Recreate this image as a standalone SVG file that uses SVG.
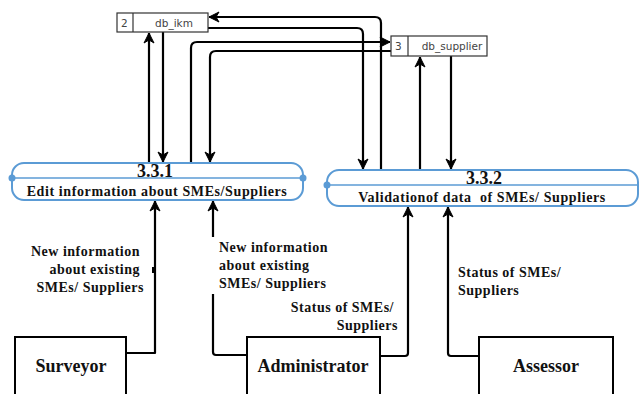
<svg xmlns="http://www.w3.org/2000/svg" width="639" height="394" viewBox="0 0 639 394">
  <style>
    .flow { fill: none; stroke: #000; stroke-width: 2.2; stroke-linejoin: round; }
    .proc { fill: #fff; stroke: #5b9bd5; stroke-width: 2; }
    .procline { stroke: #5b9bd5; stroke-width: 1.6; }
    .dot { fill: #5b9bd5; }
    .store { fill: #fff; stroke: #333; stroke-width: 1.2; }
    .storetxt { font-family: "DejaVu Sans", sans-serif; font-size: 10.5px; fill: #444; }
    .serif { font-family: "Liberation Serif", "Times New Roman", Times, serif; font-weight: bold; fill: #111; }
    .ent { fill: #fff; stroke: #000; stroke-width: 2; }
    .enttxt { font-size: 18px; text-anchor: middle; }
    .num { font-size: 18px; text-anchor: middle; }
    .ptxt { font-size: 14px; letter-spacing: 0.6px; text-anchor: middle; }
    .lbl { font-size: 14px; letter-spacing: 0.5px; }
  </style>
  <defs>
    <marker id="arrow" markerUnits="userSpaceOnUse" markerWidth="14" markerHeight="14" viewBox="-1 -7 13 14" refX="10" refY="0" orient="auto">
      <path d="M0,-5 L10,0 L0,5 L3,0 z" fill="#000" stroke="#000" stroke-width="1" stroke-linejoin="round"/>
    </marker>
  </defs>

  <rect width="639" height="394" fill="#fff"/>

  <!-- data flows -->
  <g id="connectors">
    <!-- 3.3.1 <-> db_ikm -->
    <path class="flow" d="M149,163 L149,33" marker-end="url(#arrow)"/>
    <path class="flow" d="M163,32 L163,162" marker-end="url(#arrow)"/>
    <!-- 3.3.1 <-> db_supplier -->
    <path class="flow" d="M191,163 L191,48 Q191,42 197,42 L390,42" marker-end="url(#arrow)"/>
    <path class="flow" d="M391,51 L216,51 Q210,51 210,57 L210,162" marker-end="url(#arrow)"/>
    <!-- 3.3.2 <-> db_ikm -->
    <path class="flow" d="M208,28 L357,28 Q363,28 363,34 L363,169" marker-end="url(#arrow)"/>
    <path class="flow" d="M381,170 L381,23 Q381,17 375,17 L209,17" marker-end="url(#arrow)"/>
    <!-- 3.3.2 <-> db_supplier -->
    <path class="flow" d="M420,170 L420,57" marker-end="url(#arrow)"/>
    <path class="flow" d="M451,56 L451,169" marker-end="url(#arrow)"/>
    <!-- external entities to processes -->
    <path class="flow" d="M126,353 L155,353 L155,201" marker-end="url(#arrow)"/>
    <rect x="152" y="267" width="3" height="6" fill="#000"/>
    <path class="flow" d="M247,355 L216,355 Q213,355 213,352 L213,201" marker-end="url(#arrow)"/>
    <path class="flow" d="M380,356 L405,356 Q408,356 408,353 L408,207" marker-end="url(#arrow)"/>
    <path class="flow" d="M479,356 L451,356 Q448,356 448,353 L448,207" marker-end="url(#arrow)"/>
  </g>

  <!-- data stores -->
  <g id="db_ikm">
    <rect class="store" x="117" y="13" width="91" height="19"/>
    <line class="store" x1="133" y1="13" x2="133" y2="32"/>
    <text class="storetxt" x="121" y="26.5">2</text>
    <text class="storetxt" x="174" y="26.5" text-anchor="middle">db_ikm</text>
  </g>
  <g id="db_supplier">
    <rect class="store" x="391" y="36" width="96" height="20"/>
    <line class="store" x1="408" y1="36" x2="408" y2="56"/>
    <text class="storetxt" x="395" y="49.5">3</text>
    <text class="storetxt" x="452" y="49.5" text-anchor="middle">db_supplier</text>
  </g>

  <!-- processes -->
  <g id="p331">
    <rect class="proc" x="12" y="163" width="291" height="37" rx="12"/>
    <line class="procline" x1="12" y1="178" x2="303" y2="178"/>
    <circle class="dot" cx="12" cy="178" r="3.5"/>
    <circle class="dot" cx="303" cy="178" r="3.5"/>
    <text class="serif num" x="155" y="177">3.3.1</text>
    <text class="serif ptxt" x="157" y="196">Edit information about SMEs/Suppliers</text>
  </g>
  <g id="p332">
    <rect class="proc" x="327" y="170" width="311" height="36" rx="12"/>
    <line class="procline" x1="327" y1="185" x2="638" y2="185"/>
    <circle class="dot" cx="327" cy="185" r="3.5"/>
    <text class="serif num" x="484" y="184">3.3.2</text>
    <text class="serif ptxt" x="482" y="202" xml:space="preserve">Validationof data  of SMEs/ Suppliers</text>
  </g>

  <!-- external entities -->
  <g id="surveyor">
    <rect class="ent" x="15" y="337" width="111" height="70"/>
    <text class="serif enttxt" x="71" y="372">Surveyor</text>
  </g>
  <g id="administrator">
    <rect class="ent" x="247" y="337" width="133" height="70"/>
    <text class="serif enttxt" x="313" y="372">Administrator</text>
  </g>
  <g id="assessor">
    <rect class="ent" x="479" y="337" width="134" height="70"/>
    <text class="serif enttxt" x="546" y="372">Assessor</text>
  </g>

  <!-- flow labels -->
  <g id="labels">
    <text class="serif lbl" text-anchor="end">
      <tspan x="144" y="256">New information</tspan>
      <tspan x="144" y="274">about existing</tspan>
      <tspan x="144" y="292">SMEs/ Suppliers</tspan>
    </text>
    <rect x="211" y="237" width="122" height="57" fill="#fff"/>
    <text class="serif lbl">
      <tspan x="219" y="252">New information</tspan>
      <tspan x="219" y="270">about existing</tspan>
      <tspan x="219" y="288">SMEs/ Suppliers</tspan>
    </text>
    <text class="serif lbl" text-anchor="end">
      <tspan x="398" y="312">Status of SMEs/</tspan>
      <tspan x="398" y="330">Suppliers</tspan>
    </text>
    <text class="serif lbl">
      <tspan x="458" y="277">Status of SMEs/</tspan>
      <tspan x="458" y="295">Suppliers</tspan>
    </text>
  </g>
</svg>
